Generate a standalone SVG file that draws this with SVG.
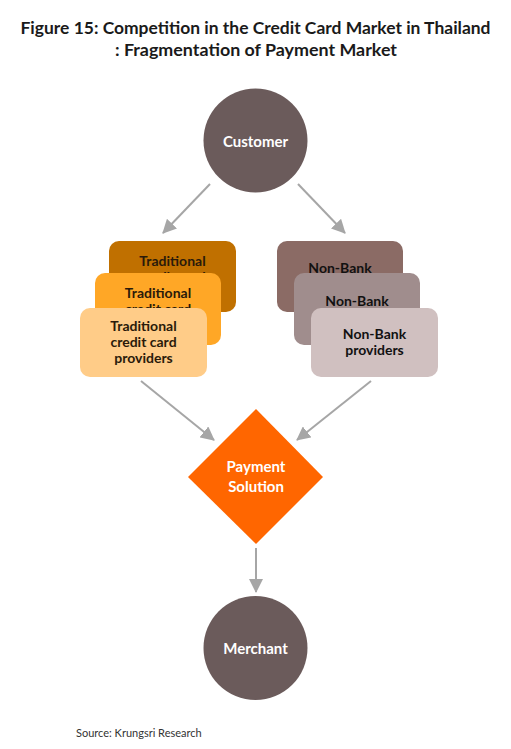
<svg xmlns="http://www.w3.org/2000/svg" width="511" height="749" viewBox="0 0 511 749">
<defs>
<style>
.t{font-family:Lato,"Open Sans","Liberation Sans",sans-serif;font-weight:bold;text-anchor:middle}
.title{font-size:17.5px;fill:#1a1a1a}
.w{fill:#ffffff;font-size:15px}
.c{fill:#2a1a0a;font-size:14px}
.n{fill:#111111;font-size:14px}
.src{font-family:Lato,"Open Sans","Liberation Sans",sans-serif;font-size:11px;fill:#333}
.edge{stroke:#A6A6A6;stroke-width:2;fill:none;marker-end:url(#ah)}
</style>
<marker id="ah" markerUnits="userSpaceOnUse" markerWidth="14" markerHeight="14" viewBox="0 0 14 14" refX="13" refY="7" orient="auto">
<path d="M0,0 L14,7 L0,14 Z" fill="#A6A6A6"/>
</marker>
</defs>
<rect width="511" height="749" fill="#ffffff"/>
<g id="title">
<text class="t title" x="255.5" y="34" textLength="470" lengthAdjust="spacingAndGlyphs">Figure 15: Competition in the Credit Card Market in Thailand</text>
<text class="t title" x="256" y="56" textLength="282" lengthAdjust="spacingAndGlyphs">: Fragmentation of Payment Market</text>
</g>
<g id="connectors">
<line class="edge" x1="210" y1="184" x2="163" y2="233"/>
<line class="edge" x1="298" y1="184" x2="345" y2="233"/>
<line class="edge" x1="141" y1="381" x2="214" y2="440"/>
<line class="edge" x1="371" y1="381" x2="297" y2="440"/>
<line class="edge" x1="256" y1="548" x2="256" y2="592"/>
</g>
<g id="customer">
<circle cx="255.5" cy="140.5" r="52" fill="#6B5B5B"/>
<text class="t w" x="255.5" y="147">Customer</text>
</g>
<g id="trad-back">
<rect x="109" y="241" width="127" height="71" rx="10" fill="#C07000"/>
<text class="t c" x="172.5" y="266">Traditional</text>
<text class="t c" x="172.5" y="282">credit card</text>
<text class="t c" x="172.5" y="298">providers</text>
</g>
<g id="trad-mid">
<rect x="95" y="273" width="126" height="72" rx="10" fill="#FFA726"/>
<text class="t c" x="158" y="298">Traditional</text>
<text class="t c" x="158" y="314">credit card</text>
<text class="t c" x="158" y="330">providers</text>
</g>
<g id="trad-front">
<rect x="80" y="308" width="127" height="69" rx="10" fill="#FFCC88"/>
<text class="t c" x="143.5" y="331">Traditional</text>
<text class="t c" x="143.5" y="347">credit card</text>
<text class="t c" x="143.5" y="363">providers</text>
</g>
<g id="nonbank-back">
<rect x="277" y="241" width="126" height="71" rx="10" fill="#8B6B65"/>
<text class="t n" x="340" y="273">Non-Bank</text>
<text class="t n" x="340" y="289">providers</text>
</g>
<g id="nonbank-mid">
<rect x="294" y="273" width="126" height="72" rx="10" fill="#A08D8D"/>
<text class="t n" x="357" y="306">Non-Bank</text>
<text class="t n" x="357" y="322">providers</text>
</g>
<g id="nonbank-front">
<rect x="311" y="308" width="127" height="69" rx="10" fill="#D0C0C0"/>
<text class="t n" x="374.5" y="339">Non-Bank</text>
<text class="t n" x="374.5" y="355">providers</text>
</g>
<g id="payment">
<polygon points="256,409 323,477 256,544 188,477" fill="#FF6600"/>
<text class="t w" x="256" y="472">Payment</text>
<text class="t w" x="256" y="492">Solution</text>
</g>
<g id="merchant">
<circle cx="255.5" cy="648" r="52" fill="#6B5B5B"/>
<text class="t w" x="255.5" y="654">Merchant</text>
</g>
<text class="src" x="76" y="737">Source: Krungsri Research</text>
</svg>
